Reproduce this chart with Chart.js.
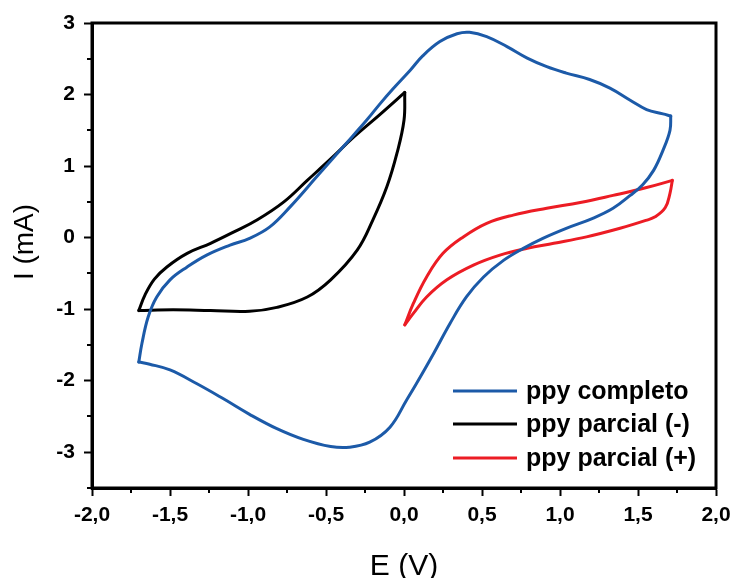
<!DOCTYPE html>
<html><head><meta charset="utf-8">
<script src="https://cdn.jsdelivr.net/npm/chart.js@4.4.1/dist/chart.umd.min.js"></script>
<style>html,body{margin:0;padding:0;background:#fff;}#wrap{width:738px;height:578px;}</style>
</head><body><div id="wrap"><canvas id="c" width="738" height="578"></canvas></div>
<script>
// Series names
const seriesLabels = ['ppy completo', 'ppy parcial (-)', 'ppy parcial (+)'];
const seriesColors = ['#1c5aa8', '#000000', '#ec1c24'];

// ppy completo: forward (anodic) scan, E in V, I in mA
const blueFwdE = [-1.70,-1.68,-1.64,-1.585,-1.50,-1.39,-1.265,-1.115,-0.99,-0.86,-0.73,-0.56,-0.39,-0.24,-0.15,-0.07,0.04,0.12,0.23,0.34,0.42,0.53,0.66,0.79,0.915,1.04,1.19,1.32,1.45,1.555,1.66,1.71];
const blueFwdI = [-1.74,-1.48,-1.11,-0.83,-0.59,-0.41,-0.245,-0.105,-0.01,0.15,0.43,0.85,1.27,1.64,1.88,2.08,2.34,2.54,2.74,2.85,2.87,2.81,2.67,2.51,2.39,2.30,2.21,2.09,1.92,1.79,1.73,1.70];
// ppy completo: reverse (cathodic) scan
const blueRevE = [1.71,1.705,1.66,1.60,1.53,1.45,1.34,1.21,1.04,0.89,0.765,0.64,0.51,0.40,0.295,0.19,0.08,0.017,-0.09,-0.22,-0.35,-0.47,-0.645,-0.815,-0.99,-1.16,-1.33,-1.50,-1.63,-1.70];
const blueRevI = [1.70,1.50,1.22,0.94,0.74,0.59,0.41,0.27,0.13,-0.01,-0.15,-0.315,-0.55,-0.83,-1.20,-1.62,-2.04,-2.27,-2.65,-2.86,-2.93,-2.92,-2.82,-2.67,-2.47,-2.25,-2.04,-1.85,-1.77,-1.74];

// ppy parcial (-)
const blackRevE = [0.005,0.00,-0.045,-0.11,-0.20,-0.30,-0.47,-0.62,-0.815,-0.99,-1.24,-1.48,-1.70];
const blackRevI = [2.03,1.64,1.18,0.71,0.245,-0.175,-0.59,-0.83,-0.975,-1.03,-1.02,-1.01,-1.02];
const blackFwdE = [-1.70,-1.66,-1.60,-1.52,-1.39,-1.24,-1.09,-0.94,-0.77,-0.62,-0.47,-0.325,-0.155,0.005];
const blackFwdI = [-1.02,-0.80,-0.58,-0.41,-0.22,-0.08,0.08,0.25,0.50,0.80,1.10,1.40,1.72,2.03];

// ppy parcial (+)
const redFwdE = [0.005,0.06,0.145,0.25,0.38,0.53,0.70,0.915,1.13,1.34,1.555,1.72];
const redFwdI = [-1.22,-0.92,-0.55,-0.22,0.01,0.20,0.315,0.41,0.49,0.59,0.70,0.80];
const redRevE = [1.72,1.705,1.675,1.61,1.55,1.385,1.17,0.96,0.79,0.615,0.445,0.275,0.145,0.06,0.005];
const redRevI = [0.80,0.62,0.42,0.29,0.24,0.13,0.01,-0.08,-0.15,-0.245,-0.385,-0.59,-0.83,-1.06,-1.22];

// Axis ranges / ticks
const xMin = -2.0, xMax = 2.0, xStep = 0.25, xMajor = 0.5;
const yMin = -3.5, yMax = 3.0, yStep = 0.5, yMajor = 1;
const xTitle = 'E (V)';
const yTitle = 'I (mA)';

const pts = (E, I) => E.map((e, i) => ({x: e, y: I[i]}));
const FONT = '"Liberation Sans", Arial, sans-serif';

function ds(E, I, k) {
  return {
    label: seriesLabels[k], data: pts(E, I), showLine: true, borderColor: seriesColors[k],
    backgroundColor: seriesColors[k], borderWidth: 3, pointRadius: 0, pointHoverRadius: 0,
    tension: 0.4, fill: false, borderJoinStyle: 'round', borderCapStyle: 'round'
  };
}

const isMajor = (v, m) => Math.abs(v / m - Math.round(v / m)) < 1e-6;

const framePlugin = {
  id: 'frame',
  afterDatasetsDraw(chart) {
    const {ctx, chartArea: a} = chart;
    ctx.save();
    // minor ticks (shorter)
    ctx.strokeStyle = '#000'; ctx.lineWidth = 2;
    const xs = chart.scales.x, ys = chart.scales.y;
    xs.ticks.forEach(t => {
      if (!isMajor(t.value, xMajor)) {
        const p = Math.round(xs.getPixelForValue(t.value));
        ctx.beginPath(); ctx.moveTo(p, a.bottom); ctx.lineTo(p, a.bottom + 5); ctx.stroke();
      }
    });
    ys.ticks.forEach(t => {
      if (!isMajor(t.value, yMajor)) {
        const p = Math.round(ys.getPixelForValue(t.value));
        ctx.beginPath(); ctx.moveTo(a.left, p); ctx.lineTo(a.left - 5, p); ctx.stroke();
      }
    });
    ctx.lineWidth = 3;
    ctx.strokeRect(a.left, a.top, a.right - a.left, a.bottom - a.top);
    // legend
    const lx0 = 453, lx1 = 517, tx = 526, rows = [391, 424, 458];
    ctx.font = 'bold 25px ' + FONT;
    ctx.textAlign = 'left'; ctx.textBaseline = 'alphabetic';
    seriesLabels.forEach((lab, k) => {
      ctx.strokeStyle = seriesColors[k]; ctx.lineWidth = 3;
      ctx.beginPath(); ctx.moveTo(lx0, rows[k]); ctx.lineTo(lx1, rows[k]); ctx.stroke();
      ctx.fillStyle = '#000';
      ctx.fillText(lab, tx, rows[k] + 8);
    });
    // axis titles
    ctx.fillStyle = '#000';
    ctx.font = '30px ' + FONT;
    ctx.textAlign = 'center'; ctx.textBaseline = 'alphabetic';
    ctx.fillText(xTitle, (a.left + a.right) / 2, 575);
    ctx.save();
    ctx.translate(33, 242);
    ctx.rotate(-Math.PI / 2);
    ctx.font = '28px ' + FONT;
    ctx.fillText(yTitle, 0, 0);
    ctx.restore();
    ctx.restore();
  }
};

new Chart(document.getElementById('c'), {
  type: 'scatter',
  data: {
    datasets: [
      ds(blueFwdE, blueFwdI, 0), ds(blueRevE, blueRevI, 0),
      ds(blackRevE, blackRevI, 1), ds(blackFwdE, blackFwdI, 1),
      ds(redFwdE, redFwdI, 2), ds(redRevE, redRevI, 2)
    ]
  },
  options: {
    responsive: false, animation: false, devicePixelRatio: 1,
    layout: {padding: {left: 0, top: 23, right: 22, bottom: 0}},
    plugins: {legend: {display: false}, tooltip: {enabled: false}},
    scales: {
      x: {
        type: 'linear', min: xMin, max: xMax,
        afterFit: s => { s.height = 90; },
        border: {display: true, color: '#000', width: 3},
        grid: {drawOnChartArea: false, drawTicks: true, tickLength: 8, tickWidth: 2,
               tickColor: c => (c.tick && isMajor(c.tick.value, xMajor)) ? '#000' : 'rgba(0,0,0,0)'},
        ticks: {stepSize: xStep, autoSkip: false, maxRotation: 0, color: '#000', padding: 7,
                font: {family: FONT, size: 21, weight: 'bold'},
                callback: v => isMajor(v, xMajor) ? (Math.round(v * 10) / 10).toFixed(1).replace('.', ',') : ''},
        title: {display: false, text: xTitle}
      },
      y: {
        type: 'linear', min: yMin, max: yMax,
        afterFit: s => { s.width = 92; },
        border: {display: true, color: '#000', width: 3},
        grid: {drawOnChartArea: false, drawTicks: true, tickLength: 8, tickWidth: 2,
               tickColor: c => (c.tick && isMajor(c.tick.value, yMajor)) ? '#000' : 'rgba(0,0,0,0)'},
        ticks: {stepSize: yStep, autoSkip: false, color: '#000', padding: 9,
                font: {family: FONT, size: 21, weight: 'bold'},
                callback: v => isMajor(v, yMajor) ? String(Math.round(v)) : ''},
        title: {display: false, text: yTitle}
      }
    }
  },
  plugins: [framePlugin]
});
</script>
</body></html>
